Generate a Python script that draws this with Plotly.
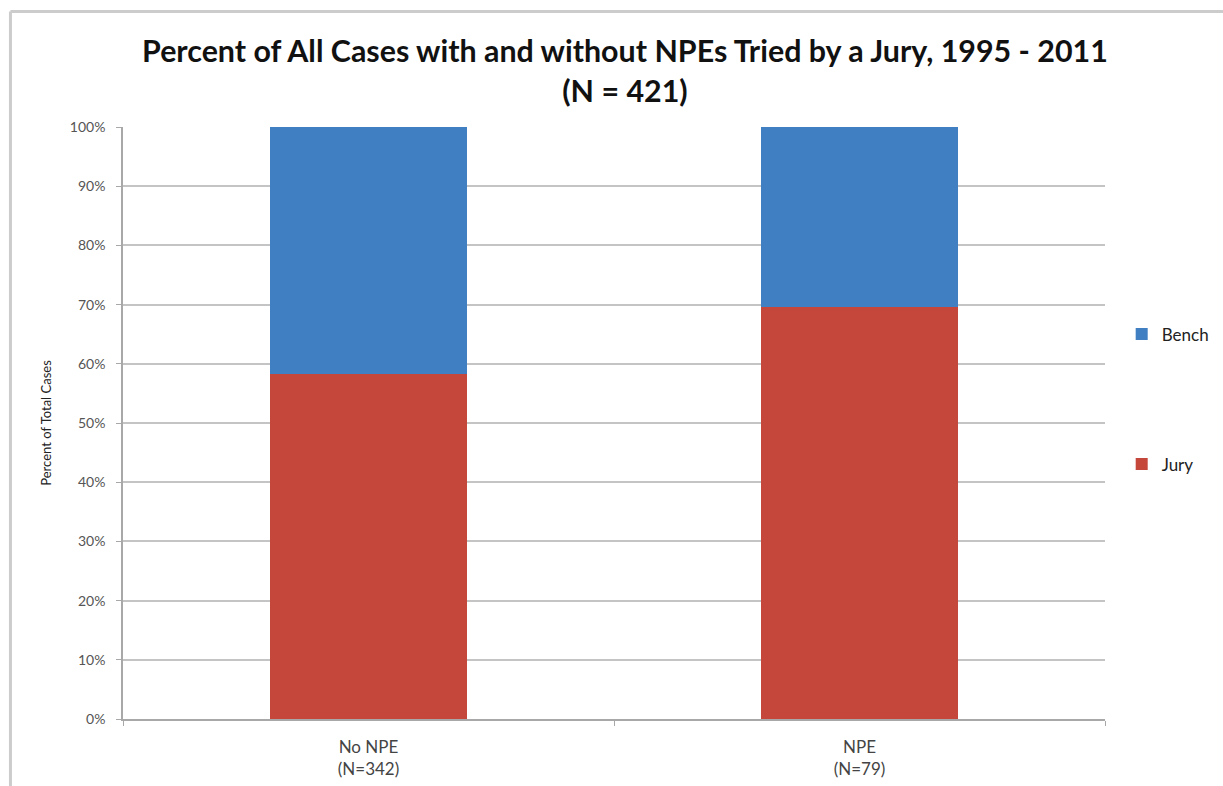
import plotly.graph_objects as go

categories = ["No NPE<br>(N=342)", "NPE<br>(N=79)"]
jury = [58.2, 69.6]
bench = [41.8, 30.4]
y_ticks = [0, 10, 20, 30, 40, 50, 60, 70, 80, 90, 100]
y_ticktext = [f"{v}%" for v in y_ticks]

fig = go.Figure()
fig.add_trace(go.Bar(
    x=categories, y=jury, name="Jury", legendgroup="jury", legendrank=2,
    marker=dict(color="#c5463a", line=dict(width=0)),
    width=0.4,
))
fig.add_trace(go.Bar(
    x=categories, y=bench, name="Bench", legendgroup="bench", legendrank=1,
    marker=dict(color="#3f7fc2", line=dict(width=0)),
    width=0.4,
))

fig.update_layout(
    width=1223, height=786,
    barmode="stack",
    paper_bgcolor="white", plot_bgcolor="white",
    margin=dict(l=123, r=118, t=127, b=67, autoexpand=False),
    font=dict(family="Lato, 'Open Sans', sans-serif", color="#333333"),
    title=dict(
        text="<b>Percent of All Cases with and without NPEs Tried by a Jury, 1995 - 2011<br>(N = 421)</b>",
        x=0.511, xanchor="center", y=0.921, yanchor="top",
        font=dict(size=30.4, color="#111111", family="Lato, sans-serif"),
    ),
    legend=dict(
        x=1.017, xanchor="left", y=0.680, yanchor="top",
        traceorder="grouped", tracegroupgap=105,
        font=dict(size=17, color="#222222"),
        itemwidth=30,
    ),
)
fig.update_yaxes(
    range=[0, 100], tickvals=y_ticks, ticktext=y_ticktext,
    showgrid=True, gridcolor="#c4c4c4", gridwidth=1.5,
    showline=True, linecolor="#a8a8a8", linewidth=1.5,
    ticks="outside", ticklen=5, tickcolor="#a8a8a8",
    tickfont=dict(size=14, color="#555555"), ticklabelstandoff=8,
    title=dict(text="Percent of Total Cases", font=dict(size=13, color="#222222"), standoff=15),
    zeroline=False,
)
fig.update_xaxes(
    showline=True, linecolor="#a8a8a8", linewidth=1.5,
    ticks="outside", tickson="boundaries", ticklen=5, tickcolor="#a8a8a8",
    tickfont=dict(size=17, color="#444444"), ticklabelstandoff=12,
)
# outer chart frame (top and left edges)
fig.add_shape(type="line", xref="paper", yref="paper",
              x0=-0.1146, x1=1.1202, y0=1.1951, y1=1.1951,
              line=dict(color="#cccccc", width=3), layer="below")
fig.add_shape(type="line", xref="paper", yref="paper",
              x0=-0.1146, x1=-0.1146, y0=1.1951, y1=-0.1132,
              line=dict(color="#cccccc", width=3), layer="below")

fig.write_html("out.html", config={"displayModeBar": False},
               post_script="document.body.style.margin='0';")
